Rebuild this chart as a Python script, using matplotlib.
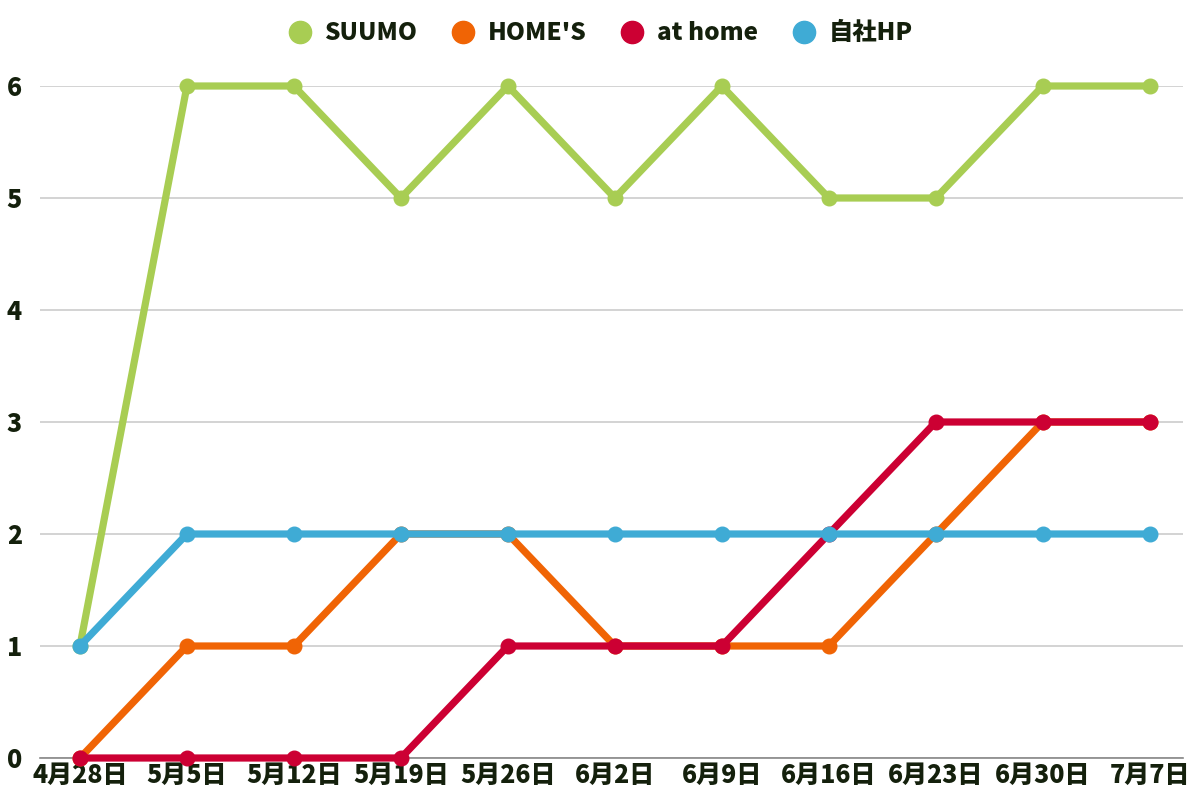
import matplotlib
matplotlib.use("Agg")
import matplotlib.pyplot as plt
from matplotlib.lines import Line2D

plt.rcParams['font.family'] = ['Noto Sans CJK JP', 'DejaVu Sans']

dates = ["4月28日", "5月5日", "5月12日", "5月19日", "5月26日", "6月2日",
         "6月9日", "6月16日", "6月23日", "6月30日", "7月7日"]
suumo = [1, 6, 6, 5, 6, 5, 6, 5, 5, 6, 6]
homes = [0, 1, 1, 2, 2, 1, 1, 1, 2, 3, 3]
athome = [0, 0, 0, 0, 1, 1, 1, 2, 3, 3, 3]
jisha = [1, 2, 2, 2, 2, 2, 2, 2, 2, 2, 2]

series = [("SUUMO", suumo, "#a8cd53"),
          ("HOME'S", homes, "#f06405"),
          ("at home", athome, "#cc0033"),
          ("自社HP", jisha, "#3fabd5")]

txt = "#14200c"
fig = plt.figure(figsize=(12, 8), dpi=100)
ax = fig.add_axes([0.0333, 0.0525, 0.9525, 0.84])
x = list(range(len(dates)))
for name, vals, col in series:
    ax.plot(x, vals, color=col, lw=5.2, marker='o', ms=10.5, clip_on=False,
            solid_capstyle='round', zorder=3)

ax.set_ylim(0, 6)
ax.set_xlim(-0.374, 10.31)
ax.set_yticks(range(7))
ax.set_xticks(x)
ax.set_xticklabels(dates)
ax.grid(axis='y', color='#cccccc', lw=1.2)
ax.set_axisbelow(True)
for s in ['top', 'right', 'left']:
    ax.spines[s].set_visible(False)
ax.spines['bottom'].set_color('#888888')
ax.spines['bottom'].set_linewidth(1.2)
ax.tick_params(axis='both', length=0, labelsize=18, labelcolor=txt)
ax.tick_params(axis='x', pad=3)
ax.tick_params(axis='y', pad=13)
for lab in ax.get_xticklabels() + ax.get_yticklabels():
    lab.set_fontweight('black')

handles = [Line2D([], [], ls='none', marker='o', ms=16, color=c, label=n)
           for n, v, c in series]
leg = fig.legend(handles=handles, loc='upper center', ncol=4,
                 bbox_to_anchor=(0.5, 1.0), frameon=False, fontsize=17.5,
                 handlelength=1.0, handletextpad=0.5, columnspacing=1.4,
                 borderaxespad=0.45)
for t in leg.get_texts():
    t.set_fontweight('black')
    t.set_color(txt)

fig.savefig("out.png", dpi=100)
